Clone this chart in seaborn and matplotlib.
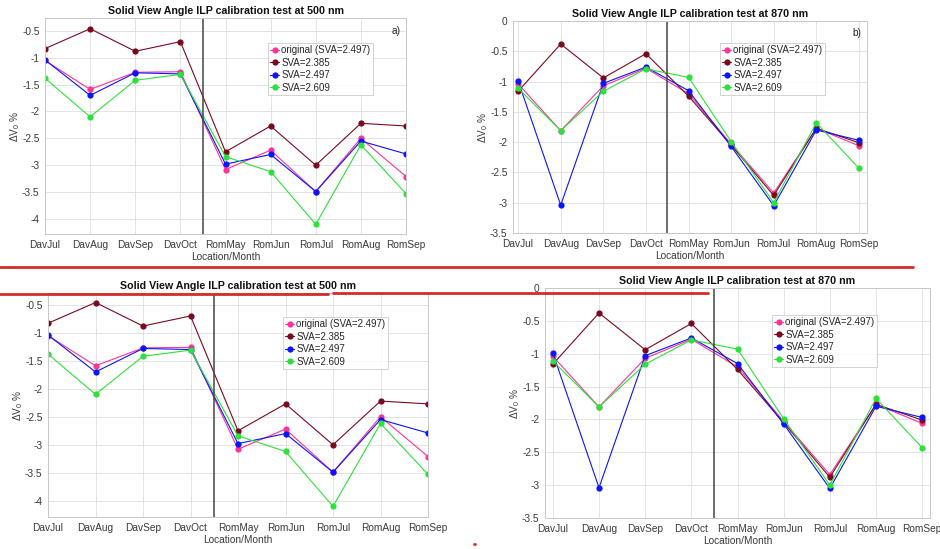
import matplotlib
matplotlib.use("Agg")
import matplotlib.pyplot as plt
from matplotlib.lines import Line2D
import pandas as pd
import seaborn as sns

# Categories (location + month)
categories = ["DavJul", "DavAug", "DavSep", "DavOct", "RomMay",
              "RomJun", "RomJul", "RomAug", "RomSep"]
series_names = ["original (SVA=2.497)", "SVA=2.385", "SVA=2.497", "SVA=2.609"]

# 500 nm
orig_500 = [-1.05, -1.59, -1.27, -1.26, -3.08, -2.72, -3.49, -2.50, -3.21]
sva2385_500 = [-0.83, -0.46, -0.88, -0.70, -2.75, -2.27, -3.00, -2.22, -2.27]
sva2497_500 = [-1.04, -1.70, -1.28, -1.30, -2.98, -2.80, -3.49, -2.55, -2.79]
sva2609_500 = [-1.38, -2.10, -1.42, -1.31, -2.84, -3.12, -4.10, -2.62, -3.53]

# 870 nm
orig_870 = [-1.04, -1.81, -1.07, -0.78, -1.20, -2.03, -2.84, -1.77, -2.06]
sva2385_870 = [-1.16, -0.38, -0.94, -0.54, -1.24, -2.05, -2.88, -1.77, -2.01]
sva2497_870 = [-0.99, -3.04, -1.03, -0.76, -1.15, -2.07, -3.05, -1.80, -1.97]
sva2609_870 = [-1.11, -1.81, -1.16, -0.79, -0.93, -1.99, -3.00, -1.68, -2.43]

colors = ["#ff3399", "#7a0a1e", "#0a14ff", "#2ee03c"]

sns.set_style("white")
plt.rcParams["font.family"] = ["Liberation Sans", "DejaVu Sans"]

W, H = 940, 549
fig = plt.figure(figsize=(W / 100, H / 100), dpi=100)


def fig_rect(left, top, right, bottom):
    return [left / W, 1 - bottom / H, (right - left) / W, (bottom - top) / H]


def panel(rect, data, wl, xlim, ylim, yticks, legend_xy, tag=None):
    ax = fig.add_axes(fig_rect(*rect))
    pos = list(range(len(categories)))
    for name, vals, c in zip(series_names, data, colors):
        sns.lineplot(x=pos, y=vals, color=c, marker="o", markersize=4.5,
                     markeredgewidth=0, linewidth=0.8, label=name, ax=ax)
    ax.axvline(3.5, color="#444444", linewidth=1.1)
    ax.set_xlim(*xlim)
    ax.set_ylim(*ylim)
    ax.set_xticks(pos)
    ax.set_xticklabels(categories)
    ax.set_yticks(yticks)
    ax.set_yticklabels([f"{t:g}" for t in yticks])
    ax.grid(True, color="#e3e3e3", linewidth=0.7)
    for s in ax.spines.values():
        s.set_color("#c8c8c8")
        s.set_linewidth(0.7)
    ax.tick_params(length=0, labelsize=7.3, colors="#3a3a3a", pad=4)
    ax.set_xlabel("Location/Month", fontsize=7.3, color="#3a3a3a", labelpad=2)
    ax.set_ylabel(r"$\mathregular{\Delta V_0}$ %", fontsize=7.3,
                  color="#3a3a3a", labelpad=0)
    ax.set_title(f"Solid View Angle ILP calibration test at {wl} nm",
                 fontsize=7.7, fontweight="bold", color="#111111", pad=3)
    leg = ax.legend(loc="upper left", bbox_to_anchor=(legend_xy[0] / W, 1 - legend_xy[1] / H),
                    bbox_transform=fig.transFigure, borderaxespad=0, fontsize=7,
                    handlelength=0.9, handletextpad=0.2, labelspacing=0.25,
                    borderpad=0.25, frameon=True, fancybox=False)
    leg.get_frame().set_edgecolor("#c8c8c8")
    leg.get_frame().set_linewidth(0.7)
    if tag:
        ax.text(0.985, 0.965, tag, transform=ax.transAxes, ha="right", va="top",
                fontsize=7.3, color="#222222")
    return ax


data_500 = [orig_500, sva2385_500, sva2497_500, sva2609_500]
data_870 = [orig_870, sva2385_870, sva2497_870, sva2609_870]
ticks_500 = [-4, -3.5, -3, -2.5, -2, -1.5, -1, -0.5]
ticks_870 = [-3.5, -3, -2.5, -2, -1.5, -1, -0.5, 0]

panel((45, 18, 406, 234), data_500, 500, (0, 8), (-4.28, -0.26), ticks_500, (268, 43), "a)")
panel((513, 21, 867, 233), data_870, 870, (-0.12, 8.19), (-3.5, 0), ticks_870, (720, 43), "b)")
panel((48, 293, 428, 517), data_500, 500, (0, 8), (-4.29, -0.29), ticks_500, (283, 317))
panel((545, 288, 930, 518), data_870, 870, (-0.17, 8.17), (-3.5, 0), ticks_870, (772, 315))

# red separator lines drawn over the figure
red = "#d42b2b"
for x0, x1, y in [(0, 913, 267), (0, 328, 293.5), (333, 708, 293), (474, 474.8, 544)]:
    fig.add_artist(Line2D([x0 / W, x1 / W], [1 - y / H, 1 - y / H], color=red,
                          linewidth=2.0, transform=fig.transFigure, zorder=20))

fig.savefig("out.png", dpi=100)
